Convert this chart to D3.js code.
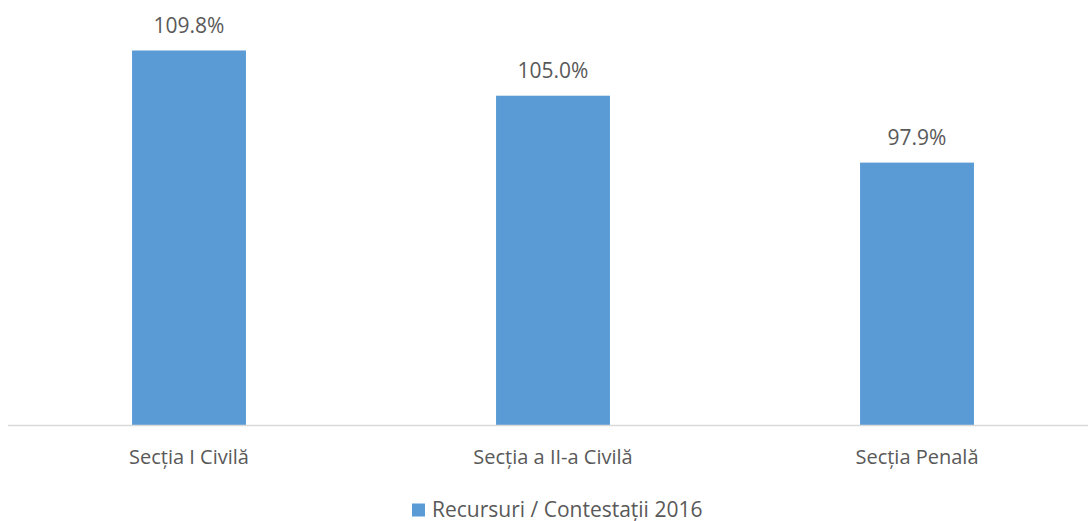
<!DOCTYPE html>
<html>
<head>
<meta charset="utf-8">
<script src="https://cdn.jsdelivr.net/npm/d3@7.9.0/dist/d3.min.js"></script>
<style>
  body { margin: 0; background: #fff; }
  text { font-family: "Open Sans", "Noto Sans", sans-serif; fill: #595959; }
</style>
</head>
<body>
<svg id="chart"></svg>
<script>
const categories = ["Secția I Civilă", "Secția a II-a Civilă", "Secția Penală"];
const values = [109.8, 105.0, 97.9];
const seriesName = "Recursuri / Contestații 2016";

const width = 1088, height = 521;
const svg = d3.select("#chart").attr("width", width).attr("height", height);

const x = d3.scaleBand()
    .domain(categories)
    .range([7, 1099])
    .paddingInner(0.687)
    .paddingOuter(0.3435);

const y = d3.scaleLinear().domain([70, 110]).range([425.5, 48.6]);

const color = "#5b9bd5";

// bars
svg.selectAll(".bar")
    .data(values)
    .enter()
    .append("rect")
    .attr("class", "bar")
    .attr("x", (d, i) => x(categories[i]))
    .attr("width", x.bandwidth())
    .attr("y", d => y(d))
    .attr("height", d => y(70) - y(d))
    .attr("fill", color);

// value labels
svg.selectAll(".val")
    .data(values)
    .enter()
    .append("text")
    .attr("class", "val")
    .attr("x", (d, i) => x(categories[i]) + x.bandwidth() / 2)
    .attr("y", d => y(d) - 17.5)
    .attr("text-anchor", "middle")
    .style("font-size", "21px")
    .text(d => d.toFixed(1) + "%");

// baseline axis
svg.append("line")
    .attr("x1", 8).attr("x2", 1088)
    .attr("y1", y(70)).attr("y2", y(70))
    .attr("stroke", "#d9d9d9")
    .attr("stroke-width", 1.5);

// category labels
svg.selectAll(".cat")
    .data(categories)
    .enter()
    .append("text")
    .attr("class", "cat")
    .attr("x", d => x(d) + x.bandwidth() / 2)
    .attr("y", 464)
    .attr("text-anchor", "middle")
    .style("font-size", "20px")
    .text(d => d);

// legend
const legend = svg.append("g").attr("transform", "translate(412,0)");
legend.append("rect")
    .attr("x", 0).attr("y", 503.5)
    .attr("width", 13).attr("height", 13)
    .attr("fill", color);
legend.append("text")
    .attr("x", 20).attr("y", 516.5)
    .style("font-size", "21px")
    .text(seriesName);
</script>
</body>
</html>
